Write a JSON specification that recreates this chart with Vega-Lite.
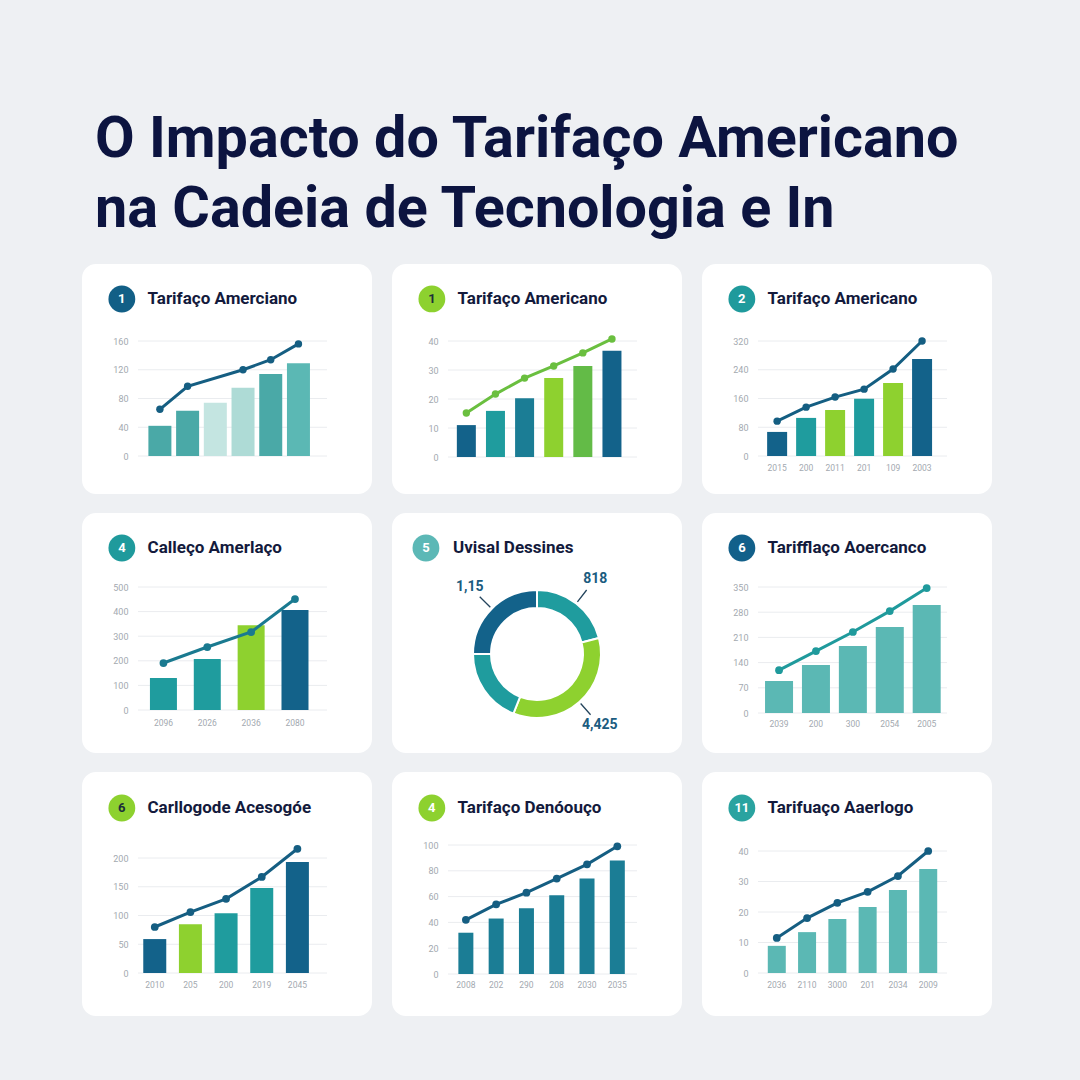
{
  "$schema": "https://vega.github.io/schema/vega-lite/v6.json",
  "background": "#eef0f3",
  "padding": {"left": 82, "top": 110, "right": 88, "bottom": 66},
  "title": {
    "text": ["O Impacto do Tarifaço Americano", "na Cadeia de Tecnologia e In"],
    "anchor": "start", "dx": 13, "fontSize": 57.5, "font": "Roboto", "fontWeight": "bold",
    "color": "#0c1440", "lineHeight": 70, "offset": 25, "baseline": "top"
  },
  "spacing": 19,
  "config": {
    "font": "Roboto",
    "view": {"fill": "white", "stroke": null, "cornerRadius": 14},
    "concat": {"spacing": 20}
  },
  "vconcat": [
    {
      "hconcat": [
        {
          "width": 290, "height": 230,
          "layer": [
            {"data": {"values": [{"valor": 0}, {"valor": 40}, {"valor": 80}, {"valor": 120}, {"valor": 160}]},
             "mark": {"type": "rule", "color": "#eaecef", "strokeWidth": 1},
             "encoding": {
               "y": {"field": "valor", "type": "quantitative", "scale": {"domain": [0, 160], "range": [192, 77], "nice": false, "zero": false}, "axis": {"values": [0, 40, 80, 120, 160], "title": null, "grid": false, "domain": false, "ticks": false, "offset": -46, "labelPadding": 0, "labelColor": "#a3a9b0", "labelFontSize": 9}},
               "x": {"datum": 0.21, "type": "quantitative", "scale": {"domain": [0.21, 7.03], "range": [51, 250], "nice": false, "zero": false}, "axis": null},
               "x2": {"datum": 7.03}}},
            {"data": {"values": [
              {"ano": "2015", "ordem": 1, "valor": 42, "tom": "tealmedio"},
              {"ano": "2016", "ordem": 2, "valor": 63, "tom": "tealmedio"},
              {"ano": "2017", "ordem": 3, "valor": 74, "tom": "palido"},
              {"ano": "2018", "ordem": 4, "valor": 95, "tom": "palido2"},
              {"ano": "2019", "ordem": 5, "valor": 114, "tom": "tealmedio"},
              {"ano": "2020", "ordem": 6, "valor": 129, "tom": "tealclaro"}]},
             "mark": {"type": "bar", "width": 23},
             "encoding": {
               "y": {"field": "valor", "type": "quantitative", "scale": {"domain": [0, 160], "range": [192, 77], "nice": false, "zero": false}, "axis": {"values": [0, 40, 80, 120, 160], "title": null, "grid": false, "domain": false, "ticks": false, "offset": -46, "labelPadding": 0, "labelColor": "#a3a9b0", "labelFontSize": 9}},
               "x": {"field": "ordem", "type": "quantitative", "scale": {"domain": [0.21, 7.03], "range": [51, 250], "nice": false, "zero": false}, "axis": null},
               "color": {"field": "tom", "type": "nominal", "legend": null,
                 "scale": {"domain": ["azul", "azulteal", "teal", "tealmedio", "tealclaro", "palido", "palido2", "lima", "verde"], "range": ["#13628a", "#1b7d95", "#1f9c9e", "#4aa9a7", "#5bb8b4", "#c4e5e1", "#aedbd6", "#8ed12f", "#63bb47"]}}}},
            {"data": {"values": [{"ordem": 1, "valor": 65}, {"ordem": 2, "valor": 97}, {"ordem": 4, "valor": 120}, {"ordem": 5, "valor": 134}, {"ordem": 6, "valor": 156}]},
             "mark": {"type": "line", "color": "#155e82", "strokeWidth": 3, "point": {"filled": true, "size": 55, "color": "#155e82"}},
             "encoding": {
               "y": {"field": "valor", "type": "quantitative", "scale": {"domain": [0, 160], "range": [192, 77], "nice": false, "zero": false}, "axis": {"values": [0, 40, 80, 120, 160], "title": null, "grid": false, "domain": false, "ticks": false, "offset": -46, "labelPadding": 0, "labelColor": "#a3a9b0", "labelFontSize": 9}},
               "x": {"field": "ordem", "type": "quantitative", "scale": {"domain": [0.21, 7.03], "range": [51, 250], "nice": false, "zero": false}, "axis": null}}},
            {"data": {"values": [{"numero": "1", "titulo": "Tarifaço Amerciano"}]},
             "encoding": {
               "y": {"datum": 218.4, "type": "quantitative", "scale": {"domain": [0, 160], "range": [192, 77], "nice": false, "zero": false}, "axis": {"values": [0, 40, 80, 120, 160], "title": null, "grid": false, "domain": false, "ticks": false, "offset": -46, "labelPadding": 0, "labelColor": "#a3a9b0", "labelFontSize": 9}},
               "x": {"datum": -0.373, "type": "quantitative", "scale": {"domain": [0.21, 7.03], "range": [51, 250], "nice": false, "zero": false}, "axis": null}
             },
             "layer": [
               {"mark": {"type": "point", "filled": true, "size": 720, "color": "#125f86", "opacity": 1}},
               {"mark": {"type": "text", "color": "white", "fontSize": 13, "fontWeight": "bold"}, "encoding": {"text": {"field": "numero"}}},
               {"mark": {"type": "text", "align": "left", "color": "#131a3c", "fontSize": 17, "fontWeight": "bold"}, "encoding": {"x": {"datum": 0.553, "type": "quantitative"}, "text": {"field": "titulo"}}}
             ]}
          ]
        },
        {
          "width": 290, "height": 230,
          "layer": [
            {"data": {"values": [{"valor": 0}, {"valor": 10}, {"valor": 20}, {"valor": 30}, {"valor": 40}]},
             "mark": {"type": "rule", "color": "#eaecef", "strokeWidth": 1},
             "encoding": {
               "y": {"field": "valor", "type": "quantitative", "scale": {"domain": [0, 40], "range": [193, 77], "nice": false, "zero": false}, "axis": {"values": [0, 10, 20, 30, 40], "title": null, "grid": false, "domain": false, "ticks": false, "offset": -46, "labelPadding": 0, "labelColor": "#a3a9b0", "labelFontSize": 9}},
               "x": {"datum": 0.37, "type": "quantitative", "scale": {"domain": [0.37, 6.86], "range": [51, 250], "nice": false, "zero": false}, "axis": null},
               "x2": {"datum": 6.86}}},
            {"data": {"values": [
              {"ano": "2015", "ordem": 1, "valor": 11, "tom": "azul"},
              {"ano": "2016", "ordem": 2, "valor": 15.9, "tom": "teal"},
              {"ano": "2017", "ordem": 3, "valor": 20.3, "tom": "azulteal"},
              {"ano": "2018", "ordem": 4, "valor": 27.2, "tom": "lima"},
              {"ano": "2019", "ordem": 5, "valor": 31.4, "tom": "verde"},
              {"ano": "2020", "ordem": 6, "valor": 36.6, "tom": "azul"}]},
             "mark": {"type": "bar", "width": 19},
             "encoding": {
               "y": {"field": "valor", "type": "quantitative", "scale": {"domain": [0, 40], "range": [193, 77], "nice": false, "zero": false}, "axis": {"values": [0, 10, 20, 30, 40], "title": null, "grid": false, "domain": false, "ticks": false, "offset": -46, "labelPadding": 0, "labelColor": "#a3a9b0", "labelFontSize": 9}},
               "x": {"field": "ordem", "type": "quantitative", "scale": {"domain": [0.37, 6.86], "range": [51, 250], "nice": false, "zero": false}, "axis": null},
               "color": {"field": "tom", "type": "nominal", "legend": null,
                 "scale": {"domain": ["azul", "azulteal", "teal", "tealmedio", "tealclaro", "palido", "palido2", "lima", "verde"], "range": ["#13628a", "#1b7d95", "#1f9c9e", "#4aa9a7", "#5bb8b4", "#c4e5e1", "#aedbd6", "#8ed12f", "#63bb47"]}}}},
            {"data": {"values": [{"ordem": 1, "valor": 15.2}, {"ordem": 2, "valor": 21.7}, {"ordem": 3, "valor": 27.2}, {"ordem": 4, "valor": 31.4}, {"ordem": 5, "valor": 35.9}, {"ordem": 6, "valor": 40.7}]},
             "mark": {"type": "line", "color": "#6abf3f", "strokeWidth": 3, "point": {"filled": true, "size": 55, "color": "#6abf3f"}},
             "encoding": {
               "y": {"field": "valor", "type": "quantitative", "scale": {"domain": [0, 40], "range": [193, 77], "nice": false, "zero": false}, "axis": {"values": [0, 10, 20, 30, 40], "title": null, "grid": false, "domain": false, "ticks": false, "offset": -46, "labelPadding": 0, "labelColor": "#a3a9b0", "labelFontSize": 9}},
               "x": {"field": "ordem", "type": "quantitative", "scale": {"domain": [0.37, 6.86], "range": [51, 250], "nice": false, "zero": false}, "axis": null}}},
            {"data": {"values": [{"numero": "1", "titulo": "Tarifaço Americano"}]},
             "encoding": {
               "y": {"datum": 54.5, "type": "quantitative", "scale": {"domain": [0, 40], "range": [193, 77], "nice": false, "zero": false}, "axis": {"values": [0, 10, 20, 30, 40], "title": null, "grid": false, "domain": false, "ticks": false, "offset": -46, "labelPadding": 0, "labelColor": "#a3a9b0", "labelFontSize": 9}},
               "x": {"datum": -0.184, "type": "quantitative", "scale": {"domain": [0.37, 6.86], "range": [51, 250], "nice": false, "zero": false}, "axis": null}
             },
             "layer": [
               {"mark": {"type": "point", "filled": true, "size": 720, "color": "#8dd12f", "opacity": 1}},
               {"mark": {"type": "text", "color": "#1d2f3a", "fontSize": 13, "fontWeight": "bold"}, "encoding": {"text": {"field": "numero"}}},
               {"mark": {"type": "text", "align": "left", "color": "#131a3c", "fontSize": 17, "fontWeight": "bold"}, "encoding": {"x": {"datum": 0.696, "type": "quantitative"}, "text": {"field": "titulo"}}}
             ]}
          ]
        },
        {
          "width": 290, "height": 230,
          "layer": [
            {"data": {"values": [{"valor": 0}, {"valor": 80}, {"valor": 160}, {"valor": 240}, {"valor": 320}]},
             "mark": {"type": "rule", "color": "#eaecef", "strokeWidth": 1},
             "encoding": {
               "y": {"field": "valor", "type": "quantitative", "scale": {"domain": [0, 320], "range": [192, 77], "nice": false, "zero": false}, "axis": {"values": [0, 80, 160, 240, 320], "title": null, "grid": false, "domain": false, "ticks": false, "offset": -46, "labelPadding": 0, "labelColor": "#a3a9b0", "labelFontSize": 9}},
               "x": {"datum": 0.34, "type": "quantitative", "scale": {"domain": [0.34, 6.86], "range": [51, 250], "nice": false, "zero": false}, "axis": null},
               "x2": {"datum": 6.86}}},
            {"data": {"name": "p3"},
             "encoding": {
               "y": {"field": "valor", "type": "quantitative", "scale": {"domain": [0, 320], "range": [192, 77], "nice": false, "zero": false}, "axis": {"values": [0, 80, 160, 240, 320], "title": null, "grid": false, "domain": false, "ticks": false, "offset": -46, "labelPadding": 0, "labelColor": "#a3a9b0", "labelFontSize": 9}},
               "x": {"field": "ordem", "type": "quantitative", "scale": {"domain": [0.34, 6.86], "range": [51, 250], "nice": false, "zero": false}, "axis": null},
               "color": {"field": "tom", "type": "nominal", "legend": null,
                 "scale": {"domain": ["azul", "azulteal", "teal", "tealmedio", "tealclaro", "palido", "palido2", "lima", "verde"], "range": ["#13628a", "#1b7d95", "#1f9c9e", "#4aa9a7", "#5bb8b4", "#c4e5e1", "#aedbd6", "#8ed12f", "#63bb47"]}}},
             "mark": {"type": "bar", "width": 20}},
            {"data": {"name": "p3"},
             "mark": {"type": "text", "dy": 12, "fontSize": 8.5, "color": "#a3a9b0"},
             "encoding": {
               "y": {"datum": 0, "type": "quantitative", "scale": {"domain": [0, 320], "range": [192, 77], "nice": false, "zero": false}, "axis": {"values": [0, 80, 160, 240, 320], "title": null, "grid": false, "domain": false, "ticks": false, "offset": -46, "labelPadding": 0, "labelColor": "#a3a9b0", "labelFontSize": 9}},
               "x": {"field": "ordem", "type": "quantitative", "scale": {"domain": [0.34, 6.86], "range": [51, 250], "nice": false, "zero": false}, "axis": null},
               "text": {"field": "ano"}}},
            {"data": {"values": [{"ordem": 1, "valor": 97}, {"ordem": 2, "valor": 136}, {"ordem": 3, "valor": 164}, {"ordem": 4, "valor": 186}, {"ordem": 5, "valor": 242}, {"ordem": 6, "valor": 320}]},
             "mark": {"type": "line", "color": "#145e82", "strokeWidth": 3, "point": {"filled": true, "size": 55, "color": "#145e82"}},
             "encoding": {
               "y": {"field": "valor", "type": "quantitative", "scale": {"domain": [0, 320], "range": [192, 77], "nice": false, "zero": false}, "axis": {"values": [0, 80, 160, 240, 320], "title": null, "grid": false, "domain": false, "ticks": false, "offset": -46, "labelPadding": 0, "labelColor": "#a3a9b0", "labelFontSize": 9}},
               "x": {"field": "ordem", "type": "quantitative", "scale": {"domain": [0.34, 6.86], "range": [51, 250], "nice": false, "zero": false}, "axis": null}}},
            {"data": {"values": [{"numero": "2", "titulo": "Tarifaço Americano"}]},
             "encoding": {
               "y": {"datum": 436.9, "type": "quantitative", "scale": {"domain": [0, 320], "range": [192, 77], "nice": false, "zero": false}, "axis": {"values": [0, 80, 160, 240, 320], "title": null, "grid": false, "domain": false, "ticks": false, "offset": -46, "labelPadding": 0, "labelColor": "#a3a9b0", "labelFontSize": 9}},
               "x": {"datum": -0.217, "type": "quantitative", "scale": {"domain": [0.34, 6.86], "range": [51, 250], "nice": false, "zero": false}, "axis": null}
             },
             "layer": [
               {"mark": {"type": "point", "filled": true, "size": 720, "color": "#1f9a9c", "opacity": 1}},
               {"mark": {"type": "text", "color": "white", "fontSize": 13, "fontWeight": "bold"}, "encoding": {"text": {"field": "numero"}}},
               {"mark": {"type": "text", "align": "left", "color": "#131a3c", "fontSize": 17, "fontWeight": "bold"}, "encoding": {"x": {"datum": 0.668, "type": "quantitative"}, "text": {"field": "titulo"}}}
             ]}
          ]
        }
      ]
    },
    {
      "hconcat": [
        {
          "width": 290, "height": 240,
          "layer": [
            {"data": {"values": [{"valor": 0}, {"valor": 100}, {"valor": 200}, {"valor": 300}, {"valor": 400}, {"valor": 500}]},
             "mark": {"type": "rule", "color": "#eaecef", "strokeWidth": 1},
             "encoding": {
               "y": {"field": "valor", "type": "quantitative", "scale": {"domain": [0, 500], "range": [197, 74], "nice": false, "zero": false}, "axis": {"values": [0, 100, 200, 300, 400, 500], "title": null, "grid": false, "domain": false, "ticks": false, "offset": -46, "labelPadding": 0, "labelColor": "#a3a9b0", "labelFontSize": 9}},
               "x": {"datum": 0.42, "type": "quantitative", "scale": {"domain": [0.42, 4.73], "range": [51, 250], "nice": false, "zero": false}, "axis": null},
               "x2": {"datum": 4.73}}},
            {"data": {"name": "p4"},
             "mark": {"type": "bar", "width": 27},
             "encoding": {
               "y": {"field": "valor", "type": "quantitative", "scale": {"domain": [0, 500], "range": [197, 74], "nice": false, "zero": false}, "axis": {"values": [0, 100, 200, 300, 400, 500], "title": null, "grid": false, "domain": false, "ticks": false, "offset": -46, "labelPadding": 0, "labelColor": "#a3a9b0", "labelFontSize": 9}},
               "x": {"field": "ordem", "type": "quantitative", "scale": {"domain": [0.42, 4.73], "range": [51, 250], "nice": false, "zero": false}, "axis": null},
               "color": {"field": "tom", "type": "nominal", "legend": null,
                 "scale": {"domain": ["azul", "azulteal", "teal", "tealmedio", "tealclaro", "palido", "palido2", "lima", "verde"], "range": ["#13628a", "#1b7d95", "#1f9c9e", "#4aa9a7", "#5bb8b4", "#c4e5e1", "#aedbd6", "#8ed12f", "#63bb47"]}}}},
            {"data": {"name": "p4"},
             "mark": {"type": "text", "dy": 13, "fontSize": 8.5, "color": "#a3a9b0"},
             "encoding": {
               "y": {"datum": 0, "type": "quantitative", "scale": {"domain": [0, 500], "range": [197, 74], "nice": false, "zero": false}, "axis": {"values": [0, 100, 200, 300, 400, 500], "title": null, "grid": false, "domain": false, "ticks": false, "offset": -46, "labelPadding": 0, "labelColor": "#a3a9b0", "labelFontSize": 9}},
               "x": {"field": "ordem", "type": "quantitative", "scale": {"domain": [0.42, 4.73], "range": [51, 250], "nice": false, "zero": false}, "axis": null},
               "text": {"field": "ano"}}},
            {"data": {"values": [{"ordem": 1, "valor": 191}, {"ordem": 2, "valor": 256}, {"ordem": 3, "valor": 317}, {"ordem": 4, "valor": 451}]},
             "mark": {"type": "line", "color": "#1a7a90", "strokeWidth": 3, "point": {"filled": true, "size": 60, "color": "#1a7a90"}},
             "encoding": {
               "y": {"field": "valor", "type": "quantitative", "scale": {"domain": [0, 500], "range": [197, 74], "nice": false, "zero": false}, "axis": {"values": [0, 100, 200, 300, 400, 500], "title": null, "grid": false, "domain": false, "ticks": false, "offset": -46, "labelPadding": 0, "labelColor": "#a3a9b0", "labelFontSize": 9}},
               "x": {"field": "ordem", "type": "quantitative", "scale": {"domain": [0.42, 4.73], "range": [51, 250], "nice": false, "zero": false}, "axis": null}}},
            {"data": {"values": [{"numero": "4", "titulo": "Calleço Amerlaço"}]},
             "encoding": {
               "y": {"datum": 658.5, "type": "quantitative", "scale": {"domain": [0, 500], "range": [197, 74], "nice": false, "zero": false}, "axis": {"values": [0, 100, 200, 300, 400, 500], "title": null, "grid": false, "domain": false, "ticks": false, "offset": -46, "labelPadding": 0, "labelColor": "#a3a9b0", "labelFontSize": 9}},
               "x": {"datum": 0.052, "type": "quantitative", "scale": {"domain": [0.42, 4.73], "range": [51, 250], "nice": false, "zero": false}, "axis": null}
             },
             "layer": [
               {"mark": {"type": "point", "filled": true, "size": 720, "color": "#1f9a9c", "opacity": 1}},
               {"mark": {"type": "text", "color": "white", "fontSize": 13, "fontWeight": "bold"}, "encoding": {"text": {"field": "numero"}}},
               {"mark": {"type": "text", "align": "left", "color": "#131a3c", "fontSize": 17, "fontWeight": "bold"}, "encoding": {"x": {"datum": 0.637, "type": "quantitative"}, "text": {"field": "titulo"}}}
             ]}
          ]
        },
        {
          "width": 290, "height": 240,
          "layer": [
            {"data": {"values": [
              {"segmento": "A", "valor": 21, "tom": "teal", "rotulo": "818", "ordem": 1},
              {"segmento": "B", "valor": 35, "tom": "lima", "rotulo": "4,425", "ordem": 2},
              {"segmento": "C", "valor": 19, "tom": "teal", "rotulo": "", "ordem": 3},
              {"segmento": "D", "valor": 25, "tom": "azul", "rotulo": "1,15", "ordem": 4}]},
             "encoding": {"theta": {"field": "valor", "type": "quantitative", "stack": true}, "order": {"field": "ordem", "type": "quantitative"}},
             "layer": [
               {"mark": {"type": "arc", "innerRadius": 46, "outerRadius": 64, "yOffset": 21, "stroke": "white", "strokeWidth": 2},
                "encoding": {"color": {"field": "tom", "type": "nominal", "legend": null,
                  "scale": {"domain": ["azul", "azulteal", "teal", "tealmedio", "tealclaro", "palido", "palido2", "lima", "verde"], "range": ["#13628a", "#1b7d95", "#1f9c9e", "#4aa9a7", "#5bb8b4", "#c4e5e1", "#aedbd6", "#8ed12f", "#63bb47"]}}}},
               {"mark": {"type": "arc", "innerRadius": 66, "outerRadius": 81, "padAngle": 3, "yOffset": 21, "fillOpacity": 0, "stroke": "#24445c", "strokeWidth": 1.3},
                "encoding": {"strokeOpacity": {"condition": {"test": "datum.rotulo == ''", "value": 0}, "value": 1}}},
               {"mark": {"type": "text", "radius": 95, "yOffset": 21, "fontSize": 14, "fontWeight": "bold", "color": "#1b5c80"},
                "encoding": {"text": {"field": "rotulo"}}}
             ]},
            {"data": {"values": [{"numero": "5", "titulo": "Uvisal Dessines"}]},
             "encoding": {
               "y": {"datum": 0.854, "type": "quantitative", "scale": {"domain": [0, 1], "nice": false, "zero": false}, "axis": null},
               "x": {"datum": 0.117, "type": "quantitative", "scale": {"domain": [0, 1], "nice": false, "zero": false}, "axis": null}
             },
             "layer": [
               {"mark": {"type": "point", "filled": true, "size": 720, "color": "#5cb8b6", "opacity": 1}},
               {"mark": {"type": "text", "color": "white", "fontSize": 13, "fontWeight": "bold"}, "encoding": {"text": {"field": "numero"}}},
               {"mark": {"type": "text", "align": "left", "color": "#131a3c", "fontSize": 17, "fontWeight": "bold"}, "encoding": {"x": {"datum": 0.2103, "type": "quantitative"}, "text": {"field": "titulo"}}}
             ]}
          ]
        },
        {
          "width": 290, "height": 240,
          "layer": [
            {"data": {"values": [{"valor": 0}, {"valor": 70}, {"valor": 140}, {"valor": 210}, {"valor": 280}, {"valor": 350}]},
             "mark": {"type": "rule", "color": "#eaecef", "strokeWidth": 1},
             "encoding": {
               "y": {"field": "valor", "type": "quantitative", "scale": {"domain": [0, 350], "range": [200, 74], "nice": false, "zero": false}, "axis": {"values": [0, 70, 140, 210, 280, 350], "title": null, "grid": false, "domain": false, "ticks": false, "offset": -46, "labelPadding": 0, "labelColor": "#a3a9b0", "labelFontSize": 9}},
               "x": {"datum": 0.43, "type": "quantitative", "scale": {"domain": [0.43, 5.55], "range": [51, 250], "nice": false, "zero": false}, "axis": null},
               "x2": {"datum": 5.55}}},
            {"data": {"name": "p6"},
             "mark": {"type": "bar", "width": 28},
             "encoding": {
               "y": {"field": "valor", "type": "quantitative", "scale": {"domain": [0, 350], "range": [200, 74], "nice": false, "zero": false}, "axis": {"values": [0, 70, 140, 210, 280, 350], "title": null, "grid": false, "domain": false, "ticks": false, "offset": -46, "labelPadding": 0, "labelColor": "#a3a9b0", "labelFontSize": 9}},
               "x": {"field": "ordem", "type": "quantitative", "scale": {"domain": [0.43, 5.55], "range": [51, 250], "nice": false, "zero": false}, "axis": null},
               "color": {"field": "tom", "type": "nominal", "legend": null,
                 "scale": {"domain": ["azul", "azulteal", "teal", "tealmedio", "tealclaro", "palido", "palido2", "lima", "verde"], "range": ["#13628a", "#1b7d95", "#1f9c9e", "#4aa9a7", "#5bb8b4", "#c4e5e1", "#aedbd6", "#8ed12f", "#63bb47"]}}}},
            {"data": {"name": "p6"},
             "mark": {"type": "text", "dy": 11, "fontSize": 8.5, "color": "#a3a9b0"},
             "encoding": {
               "y": {"datum": 0, "type": "quantitative", "scale": {"domain": [0, 350], "range": [200, 74], "nice": false, "zero": false}, "axis": {"values": [0, 70, 140, 210, 280, 350], "title": null, "grid": false, "domain": false, "ticks": false, "offset": -46, "labelPadding": 0, "labelColor": "#a3a9b0", "labelFontSize": 9}},
               "x": {"field": "ordem", "type": "quantitative", "scale": {"domain": [0.43, 5.55], "range": [51, 250], "nice": false, "zero": false}, "axis": null},
               "text": {"field": "ano"}}},
            {"data": {"values": [{"ordem": 1, "valor": 119}, {"ordem": 2, "valor": 172}, {"ordem": 3, "valor": 225}, {"ordem": 4, "valor": 283}, {"ordem": 5, "valor": 347}]},
             "mark": {"type": "line", "color": "#1f9a9c", "strokeWidth": 3, "point": {"filled": true, "size": 60, "color": "#1f9a9c"}},
             "encoding": {
               "y": {"field": "valor", "type": "quantitative", "scale": {"domain": [0, 350], "range": [200, 74], "nice": false, "zero": false}, "axis": {"values": [0, 70, 140, 210, 280, 350], "title": null, "grid": false, "domain": false, "ticks": false, "offset": -46, "labelPadding": 0, "labelColor": "#a3a9b0", "labelFontSize": 9}},
               "x": {"field": "ordem", "type": "quantitative", "scale": {"domain": [0.43, 5.55], "range": [51, 250], "nice": false, "zero": false}, "axis": null}}},
            {"data": {"values": [{"numero": "6", "titulo": "Tarifflaço Aoercanco"}]},
             "encoding": {
               "y": {"datum": 458.3, "type": "quantitative", "scale": {"domain": [0, 350], "range": [200, 74], "nice": false, "zero": false}, "axis": {"values": [0, 70, 140, 210, 280, 350], "title": null, "grid": false, "domain": false, "ticks": false, "offset": -46, "labelPadding": 0, "labelColor": "#a3a9b0", "labelFontSize": 9}},
               "x": {"datum": -0.007, "type": "quantitative", "scale": {"domain": [0.43, 5.55], "range": [51, 250], "nice": false, "zero": false}, "axis": null}
             },
             "layer": [
               {"mark": {"type": "point", "filled": true, "size": 720, "color": "#12608a", "opacity": 1}},
               {"mark": {"type": "text", "color": "white", "fontSize": 13, "fontWeight": "bold"}, "encoding": {"text": {"field": "numero"}}},
               {"mark": {"type": "text", "align": "left", "color": "#131a3c", "fontSize": 17, "fontWeight": "bold"}, "encoding": {"x": {"datum": 0.687, "type": "quantitative"}, "text": {"field": "titulo"}}}
             ]}
          ]
        }
      ]
    },
    {
      "hconcat": [
        {
          "width": 290, "height": 244,
          "layer": [
            {"data": {"values": [{"valor": 0}, {"valor": 50}, {"valor": 100}, {"valor": 150}, {"valor": 200}]},
             "mark": {"type": "rule", "color": "#eaecef", "strokeWidth": 1},
             "encoding": {
               "y": {"field": "valor", "type": "quantitative", "scale": {"domain": [0, 200], "range": [201, 86], "nice": false, "zero": false}, "axis": {"values": [0, 50, 100, 150, 200], "title": null, "grid": false, "domain": false, "ticks": false, "offset": -46, "labelPadding": 0, "labelColor": "#a3a9b0", "labelFontSize": 9}},
               "x": {"datum": 0.53, "type": "quantitative", "scale": {"domain": [0.53, 5.83], "range": [51, 250], "nice": false, "zero": false}, "axis": null},
               "x2": {"datum": 5.83}}},
            {"data": {"name": "p7"},
             "mark": {"type": "bar", "width": 23},
             "encoding": {
               "y": {"field": "valor", "type": "quantitative", "scale": {"domain": [0, 200], "range": [201, 86], "nice": false, "zero": false}, "axis": {"values": [0, 50, 100, 150, 200], "title": null, "grid": false, "domain": false, "ticks": false, "offset": -46, "labelPadding": 0, "labelColor": "#a3a9b0", "labelFontSize": 9}},
               "x": {"field": "ordem", "type": "quantitative", "scale": {"domain": [0.53, 5.83], "range": [51, 250], "nice": false, "zero": false}, "axis": null},
               "color": {"field": "tom", "type": "nominal", "legend": null,
                 "scale": {"domain": ["azul", "azulteal", "teal", "tealmedio", "tealclaro", "palido", "palido2", "lima", "verde"], "range": ["#13628a", "#1b7d95", "#1f9c9e", "#4aa9a7", "#5bb8b4", "#c4e5e1", "#aedbd6", "#8ed12f", "#63bb47"]}}}},
            {"data": {"name": "p7"},
             "mark": {"type": "text", "dy": 12, "fontSize": 8.5, "color": "#a3a9b0"},
             "encoding": {
               "y": {"datum": 0, "type": "quantitative", "scale": {"domain": [0, 200], "range": [201, 86], "nice": false, "zero": false}, "axis": {"values": [0, 50, 100, 150, 200], "title": null, "grid": false, "domain": false, "ticks": false, "offset": -46, "labelPadding": 0, "labelColor": "#a3a9b0", "labelFontSize": 9}},
               "x": {"field": "ordem", "type": "quantitative", "scale": {"domain": [0.53, 5.83], "range": [51, 250], "nice": false, "zero": false}, "axis": null},
               "text": {"field": "ano"}}},
            {"data": {"values": [{"ordem": 1, "valor": 80}, {"ordem": 2, "valor": 106}, {"ordem": 3, "valor": 129}, {"ordem": 4, "valor": 167}, {"ordem": 5, "valor": 216}]},
             "mark": {"type": "line", "color": "#155e82", "strokeWidth": 3, "point": {"filled": true, "size": 60, "color": "#155e82"}},
             "encoding": {
               "y": {"field": "valor", "type": "quantitative", "scale": {"domain": [0, 200], "range": [201, 86], "nice": false, "zero": false}, "axis": {"values": [0, 50, 100, 150, 200], "title": null, "grid": false, "domain": false, "ticks": false, "offset": -46, "labelPadding": 0, "labelColor": "#a3a9b0", "labelFontSize": 9}},
               "x": {"field": "ordem", "type": "quantitative", "scale": {"domain": [0.53, 5.83], "range": [51, 250], "nice": false, "zero": false}, "axis": null}}},
            {"data": {"values": [{"numero": "6", "titulo": "Carllogode Acesogóe"}]},
             "encoding": {
               "y": {"datum": 287, "type": "quantitative", "scale": {"domain": [0, 200], "range": [201, 86], "nice": false, "zero": false}, "axis": {"values": [0, 50, 100, 150, 200], "title": null, "grid": false, "domain": false, "ticks": false, "offset": -46, "labelPadding": 0, "labelColor": "#a3a9b0", "labelFontSize": 9}},
               "x": {"datum": 0.077, "type": "quantitative", "scale": {"domain": [0.53, 5.83], "range": [51, 250], "nice": false, "zero": false}, "axis": null}
             },
             "layer": [
               {"mark": {"type": "point", "filled": true, "size": 720, "color": "#8dd12f", "opacity": 1}},
               {"mark": {"type": "text", "color": "#1d2f3a", "fontSize": 13, "fontWeight": "bold"}, "encoding": {"text": {"field": "numero"}}},
               {"mark": {"type": "text", "align": "left", "color": "#131a3c", "fontSize": 17, "fontWeight": "bold"}, "encoding": {"x": {"datum": 0.796, "type": "quantitative"}, "text": {"field": "titulo"}}}
             ]}
          ]
        },
        {
          "width": 290, "height": 244,
          "layer": [
            {"data": {"values": [{"valor": 0}, {"valor": 20}, {"valor": 40}, {"valor": 60}, {"valor": 80}, {"valor": 100}]},
             "mark": {"type": "rule", "color": "#eaecef", "strokeWidth": 1},
             "encoding": {
               "y": {"field": "valor", "type": "quantitative", "scale": {"domain": [0, 100], "range": [202, 73], "nice": false, "zero": false}, "axis": {"values": [0, 20, 40, 60, 80, 100], "title": null, "grid": false, "domain": false, "ticks": false, "offset": -46, "labelPadding": 0, "labelColor": "#a3a9b0", "labelFontSize": 9}},
               "x": {"datum": 0.41, "type": "quantitative", "scale": {"domain": [0.41, 6.65], "range": [51, 250], "nice": false, "zero": false}, "axis": null},
               "x2": {"datum": 6.65}}},
            {"data": {"name": "p8"},
             "mark": {"type": "bar", "width": 15},
             "encoding": {
               "y": {"field": "valor", "type": "quantitative", "scale": {"domain": [0, 100], "range": [202, 73], "nice": false, "zero": false}, "axis": {"values": [0, 20, 40, 60, 80, 100], "title": null, "grid": false, "domain": false, "ticks": false, "offset": -46, "labelPadding": 0, "labelColor": "#a3a9b0", "labelFontSize": 9}},
               "x": {"field": "ordem", "type": "quantitative", "scale": {"domain": [0.41, 6.65], "range": [51, 250], "nice": false, "zero": false}, "axis": null},
               "color": {"field": "tom", "type": "nominal", "legend": null,
                 "scale": {"domain": ["azul", "azulteal", "teal", "tealmedio", "tealclaro", "palido", "palido2", "lima", "verde"], "range": ["#13628a", "#1b7d95", "#1f9c9e", "#4aa9a7", "#5bb8b4", "#c4e5e1", "#aedbd6", "#8ed12f", "#63bb47"]}}}},
            {"data": {"name": "p8"},
             "mark": {"type": "text", "dy": 11, "fontSize": 8.5, "color": "#a3a9b0"},
             "encoding": {
               "y": {"datum": 0, "type": "quantitative", "scale": {"domain": [0, 100], "range": [202, 73], "nice": false, "zero": false}, "axis": {"values": [0, 20, 40, 60, 80, 100], "title": null, "grid": false, "domain": false, "ticks": false, "offset": -46, "labelPadding": 0, "labelColor": "#a3a9b0", "labelFontSize": 9}},
               "x": {"field": "ordem", "type": "quantitative", "scale": {"domain": [0.41, 6.65], "range": [51, 250], "nice": false, "zero": false}, "axis": null},
               "text": {"field": "ano"}}},
            {"data": {"values": [{"ordem": 1, "valor": 42}, {"ordem": 2, "valor": 54}, {"ordem": 3, "valor": 63}, {"ordem": 4, "valor": 74}, {"ordem": 5, "valor": 85}, {"ordem": 6, "valor": 99}]},
             "mark": {"type": "line", "color": "#155e82", "strokeWidth": 3, "point": {"filled": true, "size": 60, "color": "#155e82"}},
             "encoding": {
               "y": {"field": "valor", "type": "quantitative", "scale": {"domain": [0, 100], "range": [202, 73], "nice": false, "zero": false}, "axis": {"values": [0, 20, 40, 60, 80, 100], "title": null, "grid": false, "domain": false, "ticks": false, "offset": -46, "labelPadding": 0, "labelColor": "#a3a9b0", "labelFontSize": 9}},
               "x": {"field": "ordem", "type": "quantitative", "scale": {"domain": [0.41, 6.65], "range": [51, 250], "nice": false, "zero": false}, "axis": null}}},
            {"data": {"values": [{"numero": "4", "titulo": "Tarifaço Denóouço"}]},
             "encoding": {
               "y": {"datum": 128.7, "type": "quantitative", "scale": {"domain": [0, 100], "range": [202, 73], "nice": false, "zero": false}, "axis": {"values": [0, 20, 40, 60, 80, 100], "title": null, "grid": false, "domain": false, "ticks": false, "offset": -46, "labelPadding": 0, "labelColor": "#a3a9b0", "labelFontSize": 9}},
               "x": {"datum": -0.123, "type": "quantitative", "scale": {"domain": [0.41, 6.65], "range": [51, 250], "nice": false, "zero": false}, "axis": null}
             },
             "layer": [
               {"mark": {"type": "point", "filled": true, "size": 720, "color": "#8dd12f", "opacity": 1}},
               {"mark": {"type": "text", "color": "white", "fontSize": 13, "fontWeight": "bold"}, "encoding": {"text": {"field": "numero"}}},
               {"mark": {"type": "text", "align": "left", "color": "#131a3c", "fontSize": 17, "fontWeight": "bold"}, "encoding": {"x": {"datum": 0.724, "type": "quantitative"}, "text": {"field": "titulo"}}}
             ]}
          ]
        },
        {
          "width": 290, "height": 244,
          "layer": [
            {"data": {"values": [{"valor": 0}, {"valor": 10}, {"valor": 20}, {"valor": 30}, {"valor": 40}]},
             "mark": {"type": "rule", "color": "#eaecef", "strokeWidth": 1},
             "encoding": {
               "y": {"field": "valor", "type": "quantitative", "scale": {"domain": [0, 40], "range": [201, 79], "nice": false, "zero": false}, "axis": {"values": [0, 10, 20, 30, 40], "title": null, "grid": false, "domain": false, "ticks": false, "offset": -46, "labelPadding": 0, "labelColor": "#a3a9b0", "labelFontSize": 9}},
               "x": {"datum": 0.38, "type": "quantitative", "scale": {"domain": [0.38, 6.62], "range": [51, 250], "nice": false, "zero": false}, "axis": null},
               "x2": {"datum": 6.62}}},
            {"data": {"name": "p9"},
             "mark": {"type": "bar", "width": 18},
             "encoding": {
               "y": {"field": "valor", "type": "quantitative", "scale": {"domain": [0, 40], "range": [201, 79], "nice": false, "zero": false}, "axis": {"values": [0, 10, 20, 30, 40], "title": null, "grid": false, "domain": false, "ticks": false, "offset": -46, "labelPadding": 0, "labelColor": "#a3a9b0", "labelFontSize": 9}},
               "x": {"field": "ordem", "type": "quantitative", "scale": {"domain": [0.38, 6.62], "range": [51, 250], "nice": false, "zero": false}, "axis": null},
               "color": {"field": "tom", "type": "nominal", "legend": null,
                 "scale": {"domain": ["azul", "azulteal", "teal", "tealmedio", "tealclaro", "palido", "palido2", "lima", "verde"], "range": ["#13628a", "#1b7d95", "#1f9c9e", "#4aa9a7", "#5bb8b4", "#c4e5e1", "#aedbd6", "#8ed12f", "#63bb47"]}}}},
            {"data": {"name": "p9"},
             "mark": {"type": "text", "dy": 12, "fontSize": 8.5, "color": "#a3a9b0"},
             "encoding": {
               "y": {"datum": 0, "type": "quantitative", "scale": {"domain": [0, 40], "range": [201, 79], "nice": false, "zero": false}, "axis": {"values": [0, 10, 20, 30, 40], "title": null, "grid": false, "domain": false, "ticks": false, "offset": -46, "labelPadding": 0, "labelColor": "#a3a9b0", "labelFontSize": 9}},
               "x": {"field": "ordem", "type": "quantitative", "scale": {"domain": [0.38, 6.62], "range": [51, 250], "nice": false, "zero": false}, "axis": null},
               "text": {"field": "ano"}}},
            {"data": {"values": [{"ordem": 1, "valor": 11.5}, {"ordem": 2, "valor": 18}, {"ordem": 3, "valor": 23}, {"ordem": 4, "valor": 26.6}, {"ordem": 5, "valor": 31.8}, {"ordem": 6, "valor": 40}]},
             "mark": {"type": "line", "color": "#155e82", "strokeWidth": 3, "point": {"filled": true, "size": 60, "color": "#155e82"}},
             "encoding": {
               "y": {"field": "valor", "type": "quantitative", "scale": {"domain": [0, 40], "range": [201, 79], "nice": false, "zero": false}, "axis": {"values": [0, 10, 20, 30, 40], "title": null, "grid": false, "domain": false, "ticks": false, "offset": -46, "labelPadding": 0, "labelColor": "#a3a9b0", "labelFontSize": 9}},
               "x": {"field": "ordem", "type": "quantitative", "scale": {"domain": [0.38, 6.62], "range": [51, 250], "nice": false, "zero": false}, "axis": null}}},
            {"data": {"values": [{"numero": "11", "titulo": "Tarifuaço Aaerlogo"}]},
             "encoding": {
               "y": {"datum": 54.1, "type": "quantitative", "scale": {"domain": [0, 40], "range": [201, 79], "nice": false, "zero": false}, "axis": {"values": [0, 10, 20, 30, 40], "title": null, "grid": false, "domain": false, "ticks": false, "offset": -46, "labelPadding": 0, "labelColor": "#a3a9b0", "labelFontSize": 9}},
               "x": {"datum": -0.153, "type": "quantitative", "scale": {"domain": [0.38, 6.62], "range": [51, 250], "nice": false, "zero": false}, "axis": null}
             },
             "layer": [
               {"mark": {"type": "point", "filled": true, "size": 720, "color": "#2aa3a0", "opacity": 1}},
               {"mark": {"type": "text", "color": "white", "fontSize": 13, "fontWeight": "bold"}, "encoding": {"text": {"field": "numero"}}},
               {"mark": {"type": "text", "align": "left", "color": "#131a3c", "fontSize": 17, "fontWeight": "bold"}, "encoding": {"x": {"datum": 0.693, "type": "quantitative"}, "text": {"field": "titulo"}}}
             ]}
          ]
        }
      ]
    }
  ],
  "datasets": {
    "p3": [
      {"ano": "2015", "ordem": 1, "valor": 67, "tom": "azul"},
      {"ano": "200", "ordem": 2, "valor": 106, "tom": "teal"},
      {"ano": "2011", "ordem": 3, "valor": 128, "tom": "lima"},
      {"ano": "201", "ordem": 4, "valor": 159, "tom": "teal"},
      {"ano": "109", "ordem": 5, "valor": 203, "tom": "lima"},
      {"ano": "2003", "ordem": 6, "valor": 270, "tom": "azul"}
    ],
    "p4": [
      {"ano": "2096", "ordem": 1, "valor": 130, "tom": "teal"},
      {"ano": "2026", "ordem": 2, "valor": 207, "tom": "teal"},
      {"ano": "2036", "ordem": 3, "valor": 345, "tom": "lima"},
      {"ano": "2080", "ordem": 4, "valor": 407, "tom": "azul"}
    ],
    "p6": [
      {"ano": "2039", "ordem": 1, "valor": 89, "tom": "tealclaro"},
      {"ano": "200", "ordem": 2, "valor": 133, "tom": "tealclaro"},
      {"ano": "300", "ordem": 3, "valor": 186, "tom": "tealclaro"},
      {"ano": "2054", "ordem": 4, "valor": 239, "tom": "tealclaro"},
      {"ano": "2005", "ordem": 5, "valor": 300, "tom": "tealclaro"}
    ],
    "p7": [
      {"ano": "2010", "ordem": 1, "valor": 59, "tom": "azul"},
      {"ano": "205", "ordem": 2, "valor": 85, "tom": "lima"},
      {"ano": "200", "ordem": 3, "valor": 104, "tom": "teal"},
      {"ano": "2019", "ordem": 4, "valor": 148, "tom": "teal"},
      {"ano": "2045", "ordem": 5, "valor": 193, "tom": "azul"}
    ],
    "p8": [
      {"ano": "2008", "ordem": 1, "valor": 32, "tom": "azulteal"},
      {"ano": "202", "ordem": 2, "valor": 43, "tom": "azulteal"},
      {"ano": "290", "ordem": 3, "valor": 51, "tom": "azulteal"},
      {"ano": "208", "ordem": 4, "valor": 61, "tom": "azulteal"},
      {"ano": "2030", "ordem": 5, "valor": 74, "tom": "azulteal"},
      {"ano": "2035", "ordem": 6, "valor": 88, "tom": "azulteal"}
    ],
    "p9": [
      {"ano": "2036", "ordem": 1, "valor": 8.9, "tom": "tealclaro"},
      {"ano": "2110", "ordem": 2, "valor": 13.4, "tom": "tealclaro"},
      {"ano": "3000", "ordem": 3, "valor": 17.7, "tom": "tealclaro"},
      {"ano": "201", "ordem": 4, "valor": 21.6, "tom": "tealclaro"},
      {"ano": "2034", "ordem": 5, "valor": 27.2, "tom": "tealclaro"},
      {"ano": "2009", "ordem": 6, "valor": 34.1, "tom": "tealclaro"}
    ]
  }
}
